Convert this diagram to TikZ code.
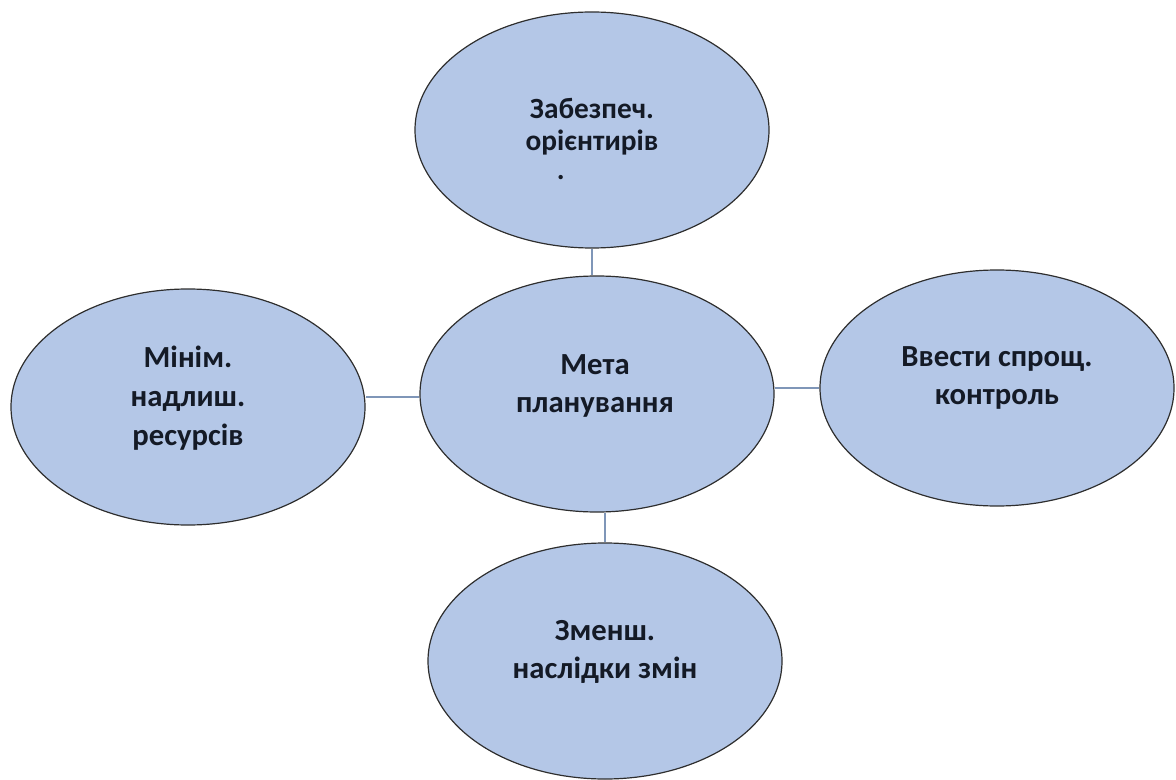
\documentclass[tikz,border=0pt]{standalone}
\usepackage{fontspec}
\setmainfont{Carlito}
\usetikzlibrary{shapes.geometric}
\definecolor{blobfill}{HTML}{B4C7E7}
\definecolor{blobline}{HTML}{2E2E2E}
\definecolor{linkcol}{HTML}{7F96B8}
\definecolor{txtcol}{HTML}{141A26}
\tikzset{
  blob/.style={ellipse, draw=blobline, line width=0.9pt, fill=blobfill,
    minimum width=265.5pt, minimum height=177pt, inner sep=0pt},
  blobtext/.style={align=center, font=\fontsize{23}{29}\selectfont\bfseries,
    text=txtcol, inner sep=0pt},
  link/.style={draw=linkcol, line width=1pt}
}
\begin{document}
\begin{tikzpicture}[x=0.75pt, y=-0.75pt]
\useasboundingbox (0,0) rectangle (1176,780);
\node[blob] (t) at (592,130) {};
\node[blob] (l) at (188,407) {};
\node[blob] (c) at (597,394) {};
\node[blob] (r) at (997,388) {};
\node[blob] (b) at (605,661) {};
\node[blobtext, font=\fontsize{22}{24}\selectfont\bfseries] (tt) at (592,139)
  {Забезпеч.\\орієнтирів\\[-2pt].\hspace*{47pt}};
\node[blobtext] (lt) at (188,398) {Мінім.\\надлиш.\\ресурсів};
\node[blobtext] (ct) at (595,386) {Мета\\планування};
\node[blobtext] (rt) at (997,378) {Ввести спрощ.\\контроль};
\node[blobtext] (bt) at (605,652) {Зменш.\\наслідки змін};
\draw[link] (t.south) -- (t.south |- c.north);
\draw[link] (c.west) ++(0,3) -- ([yshift=-2.25pt]c.west -| l.east);
\draw[link] (r.west) -- (r.west -| c.east);
\draw[link] (b.north) -- (b.north |- c.south);
\end{tikzpicture}
\end{document}
